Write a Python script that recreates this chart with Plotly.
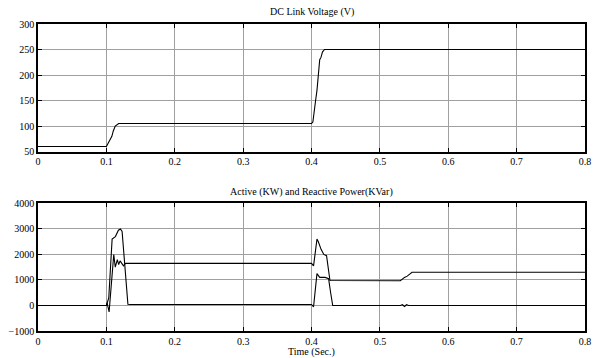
import plotly.graph_objects as go

# DC link voltage
t_v = [0, 0.1, 0.102, 0.105, 0.108, 0.11, 0.113, 0.118, 0.4, 0.402, 0.404, 0.406,
       0.408, 0.41, 0.412, 0.414, 0.416, 0.419, 0.8]
v_dc = [60, 60, 65, 72, 80, 90, 100, 105, 105, 108, 125, 150, 170, 200, 230, 235,
        245, 250, 250]

# Power curve A (large first peak)
t_a = [0, 0.1, 0.1035, 0.1084, 0.1132, 0.1176, 0.1206, 0.123, 0.1315, 0.135, 0.4,
       0.403, 0.408, 0.412, 0.42, 0.425, 0.428, 0.431, 0.435, 0.53, 0.533, 0.536,
       0.539, 0.542, 0.8]
p_a = [0, 0, 300, 2600, 2700, 2950, 3000, 2900, 50, 40, 40,
       -50, 1250, 1100, 1100, 1050, 500, 0, 0, 0, 30, -40,
       30, 0, 0]

# Power curve B (oscillating first peak)
t_b = [0, 0.1, 0.101, 0.104, 0.1108, 0.113, 0.116, 0.118, 0.12, 0.122, 0.125,
       0.128, 0.4, 0.403, 0.408, 0.41, 0.414, 0.418, 0.422, 0.427, 0.53, 0.536,
       0.54, 0.547, 0.8]
p_b = [0, 0, 100, -250, 2000, 1500, 1800, 1600, 1750, 1650, 1550,
       1650, 1650, 1550, 2600, 2500, 2200, 2000, 1950, 980, 970, 1100,
       1150, 1300, 1300]

x_ticks = [0, 0.1, 0.2, 0.3, 0.4, 0.5, 0.6, 0.7, 0.8]
x_labels = ["0", "0.1", "0.2", "0.3", "0.4", "0.5", "0.6", "0.7", "0.8"]
y1_ticks = [50, 100, 150, 200, 250, 300]
y2_ticks = [-1000, 0, 1000, 2000, 3000, 4000]

fig = go.Figure()
line = dict(color="black", width=1.1)
fig.add_trace(go.Scatter(x=t_v, y=v_dc, mode="lines", line=line, xaxis="x", yaxis="y"))
fig.add_trace(go.Scatter(x=t_a, y=p_a, mode="lines", line=line, xaxis="x2", yaxis="y2"))
fig.add_trace(go.Scatter(x=t_b, y=p_b, mode="lines", line=line, xaxis="x2", yaxis="y2"))

font = dict(family="Liberation Serif, Times New Roman, serif", size=10, color="black")
ax_common = dict(showline=True, linecolor="black", linewidth=1.5, mirror="ticks",
                 ticks="inside", ticklen=4, tickcolor="black", showgrid=True,
                 gridcolor="#a0a0a0", gridwidth=1, zeroline=False, tickfont=font,
                 automargin=False)

fig.update_layout(
    width=598, height=358, showlegend=False,
    margin=dict(l=38, r=13, t=24, b=27),
    paper_bgcolor="white", plot_bgcolor="white",
    font=font,
    xaxis=dict(range=[0, 0.8], domain=[0, 1], anchor="y", tickvals=x_ticks,
               ticktext=x_labels, ticklabelstandoff=0, **ax_common),
    yaxis=dict(range=[50, 300], domain=[0.5844, 1], anchor="x", tickvals=y1_ticks,
               ticklabelstandoff=0, **ax_common),
    xaxis2=dict(range=[0, 0.8], domain=[0, 1], anchor="y2", tickvals=x_ticks,
                ticktext=x_labels, ticklabelstandoff=0, **ax_common),
    yaxis2=dict(range=[-1000, 4000], domain=[0, 0.4156], anchor="x2", tickvals=y2_ticks,
                ticklabelstandoff=0, **ax_common),
    annotations=[
        dict(text="DC Link Voltage (V)", x=0.5, y=1.0, xref="paper", yref="paper",
             yanchor="bottom", yshift=4, showarrow=False, font=font),
        dict(text="Active (KW) and Reactive Power(KVar)", x=0.5, y=0.4156, xref="paper",
             yref="paper", yanchor="bottom", yshift=3, showarrow=False, font=font),
        dict(text="Time (Sec.)", x=0.5, y=0, xref="paper", yref="paper",
             yanchor="top", yshift=-13, showarrow=False, font=font),
    ],
)

fig.write_html("out.html", config={"displayModeBar": False},
               post_script="document.body.style.margin='0px';")
